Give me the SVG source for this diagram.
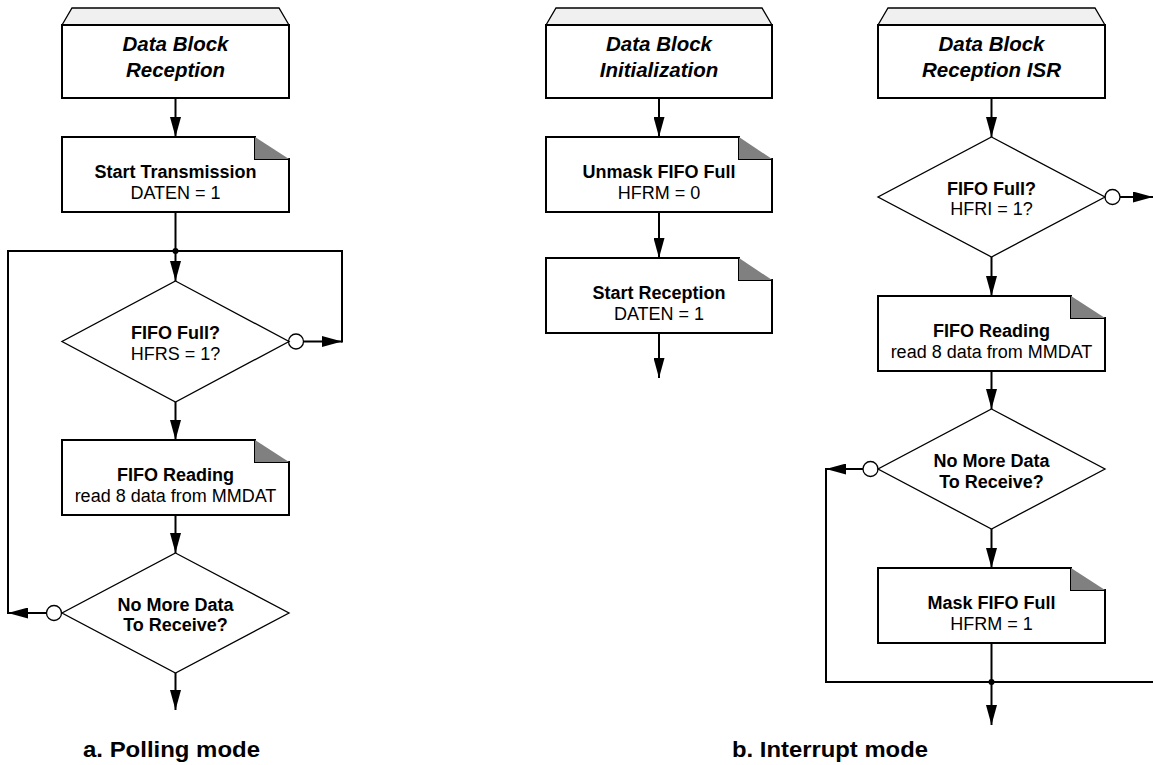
<svg xmlns="http://www.w3.org/2000/svg" width="1153" height="765" viewBox="0 0 1153 765">
<style>
text{font-family:"Liberation Sans",Arial,Helvetica,sans-serif;fill:#000;text-anchor:middle}
.t{font-size:20.5px;font-weight:bold;font-style:italic}
.b{font-size:18px;font-weight:bold}
.r{font-size:18px}
.lbl{font-size:21.5px;font-weight:bold;text-anchor:start}
.box{fill:#fff;stroke:#000;stroke-width:2}
.cap{fill:#f0f0f0;stroke:#000;stroke-width:1.3}
.fold{fill:#808080;stroke:none}
.dia{fill:#fff;stroke:#000;stroke-width:1.3}
.ln{fill:none;stroke:#000;stroke-width:2}
.ar{fill:none;stroke:#000;stroke-width:2;marker-end:url(#ah)}
.circ{fill:#fff;stroke:#000;stroke-width:1.3}
.dot{fill:#000}
</style>
<defs>
<marker id="ah" markerUnits="userSpaceOnUse" markerWidth="20" markerHeight="11" refX="20" refY="5.5" orient="auto" viewBox="0 0 20 11">
<path d="M0,0 L20,5.5 L0,11 Z" fill="#000"/>
</marker>
</defs>

<g id="connectors">
<!-- left column -->
<line class="ar" x1="175.5" y1="98" x2="175.5" y2="137"/>
<line class="ln" x1="175.5" y1="212" x2="175.5" y2="251"/>
<line class="ln" x1="8" y1="251" x2="342" y2="251"/>
<circle class="dot" cx="175.5" cy="251" r="3"/>
<line class="ar" x1="175.5" y1="251" x2="175.5" y2="281"/>
<line class="ar" x1="303.5" y1="341.5" x2="342" y2="341.5"/>
<line class="ln" x1="342" y1="250" x2="342" y2="342.5"/>
<line class="ar" x1="175.5" y1="402" x2="175.5" y2="440"/>
<line class="ar" x1="175.5" y1="515" x2="175.5" y2="553"/>
<line class="ar" x1="46.5" y1="613" x2="8" y2="613"/>
<line class="ln" x1="8" y1="250" x2="8" y2="614"/>
<line class="ar" x1="175.5" y1="673" x2="175.5" y2="710"/>
<circle class="circ" cx="296" cy="341.5" r="7.5"/>
<circle class="circ" cx="54" cy="613" r="7.5"/>
<!-- middle column -->
<line class="ar" x1="659" y1="98" x2="659" y2="137"/>
<line class="ar" x1="659" y1="212" x2="659" y2="258"/>
<line class="ar" x1="659" y1="333" x2="659" y2="378"/>
<!-- right column -->
<line class="ar" x1="991.5" y1="98" x2="991.5" y2="137"/>
<line class="ar" x1="1120" y1="197" x2="1153" y2="197"/>
<line class="ar" x1="991.5" y1="257" x2="991.5" y2="296"/>
<line class="ar" x1="991.5" y1="371" x2="991.5" y2="409"/>
<line class="ar" x1="863" y1="469" x2="826" y2="469"/>
<line class="ln" x1="826" y1="468" x2="826" y2="682"/>
<line class="ln" x1="825" y1="682" x2="1153" y2="682"/>
<line class="ar" x1="991.5" y1="529" x2="991.5" y2="568"/>
<line class="ln" x1="991.5" y1="643" x2="991.5" y2="682"/>
<circle class="dot" cx="991.5" cy="682" r="3"/>
<line class="ar" x1="991.5" y1="682" x2="991.5" y2="725"/>
<circle class="circ" cx="1112.5" cy="197" r="7.5"/>
<circle class="circ" cx="870.5" cy="469" r="7.5"/>
</g>

<!-- LEFT -->
<g id="hdr-reception">
<polygon class="cap" points="62,25 72,8 279,8 289,25"/>
<rect class="box" x="62" y="25" width="227" height="73"/>
<text class="t" x="175.5" y="51">Data Block</text>
<text class="t" x="175.5" y="77">Reception</text>
</g>
<g id="start-transmission">
<path class="box" d="M62,137 H255 V159 H289 V212 H62 Z"/>
<polygon class="fold" points="255,137 255,159 289,159"/>
<text class="b" x="175.5" y="177.5">Start Transmission</text>
<text class="r" x="175.5" y="198.5">DATEN = 1</text>
</g>
<g id="fifo-full-poll">
<polygon class="dia" points="175.5,281 289,341.5 175.5,402 62,341.5"/>
<text class="b" x="175.5" y="339">FIFO Full?</text>
<text class="r" x="175.5" y="360">HFRS = 1?</text>
</g>
<g id="fifo-reading-poll">
<path class="box" d="M62,440 H255 V462 H289 V515 H62 Z"/>
<polygon class="fold" points="255,440 255,462 289,462"/>
<text class="b" x="175.5" y="480.5">FIFO Reading</text>
<text class="r" x="175.5" y="501.5">read 8 data from MMDAT</text>
</g>
<g id="no-more-poll">
<polygon class="dia" points="175.5,553 289,613 175.5,673 62,613"/>
<text class="b" x="175.5" y="611">No More Data</text>
<text class="b" x="175.5" y="631">To Receive?</text>
</g>
<g id="label-a">
<text class="lbl" x="83" y="757" textLength="177" lengthAdjust="spacingAndGlyphs">a. Polling mode</text>
</g>

<!-- MIDDLE -->
<g id="hdr-init">
<polygon class="cap" points="546,25 556,8 762,8 772,25"/>
<rect class="box" x="546" y="25" width="226" height="73"/>
<text class="t" x="659" y="51">Data Block</text>
<text class="t" x="659" y="77">Initialization</text>
</g>
<g id="unmask">
<path class="box" d="M546,137 H739 V159 H772 V212 H546 Z"/>
<polygon class="fold" points="739,137 739,159 772,159"/>
<text class="b" x="659" y="177.5">Unmask FIFO Full</text>
<text class="r" x="659" y="198.5">HFRM = 0</text>
</g>
<g id="start-reception">
<path class="box" d="M546,258 H739 V280 H772 V333 H546 Z"/>
<polygon class="fold" points="739,258 739,280 772,280"/>
<text class="b" x="659" y="298.5">Start Reception</text>
<text class="r" x="659" y="319.5">DATEN = 1</text>
</g>

<!-- RIGHT -->
<g id="hdr-isr">
<polygon class="cap" points="878,25 888,8 1095,8 1105,25"/>
<rect class="box" x="878" y="25" width="227" height="73"/>
<text class="t" x="991.5" y="51">Data Block</text>
<text class="t" x="991.5" y="77">Reception ISR</text>
</g>
<g id="fifo-full-isr">
<polygon class="dia" points="991.5,137 1105,197 991.5,257 878,197"/>
<text class="b" x="991.5" y="194.5">FIFO Full?</text>
<text class="r" x="991.5" y="215">HFRI = 1?</text>
</g>
<g id="fifo-reading-isr">
<path class="box" d="M878,296 H1071 V318 H1105 V371 H878 Z"/>
<polygon class="fold" points="1071,296 1071,318 1105,318"/>
<text class="b" x="991.5" y="336.5">FIFO Reading</text>
<text class="r" x="991.5" y="357.5">read 8 data from MMDAT</text>
</g>
<g id="no-more-isr">
<polygon class="dia" points="991.5,409 1105,469 991.5,529 878,469"/>
<text class="b" x="991.5" y="467">No More Data</text>
<text class="b" x="991.5" y="487.5">To Receive?</text>
</g>
<g id="mask">
<path class="box" d="M878,568 H1071 V590 H1105 V643 H878 Z"/>
<polygon class="fold" points="1071,568 1071,590 1105,590"/>
<text class="b" x="991.5" y="609">Mask FIFO Full</text>
<text class="r" x="991.5" y="630">HFRM = 1</text>
</g>
<g id="label-b">
<text class="lbl" x="732" y="757" textLength="196" lengthAdjust="spacingAndGlyphs">b. Interrupt mode</text>
</g>
</svg>
